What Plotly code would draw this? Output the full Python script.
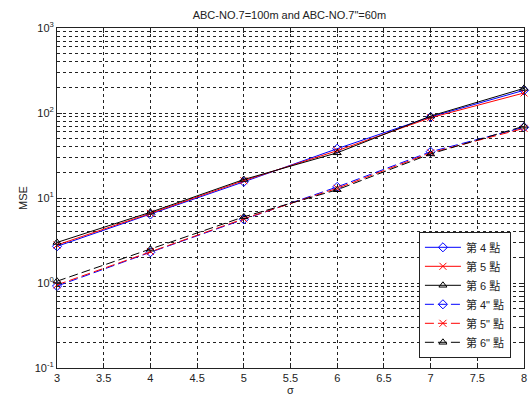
import plotly.graph_objects as go

sigma = [3, 4, 5, 6, 7, 8]
mse_p4 = [2.7, 6.4, 15.5, 38, 90, 185]
mse_p5 = [2.8, 6.6, 16.0, 36, 88, 172]
mse_p6 = [3.0, 6.8, 16.5, 34, 92, 195]
mse_p4b = [0.92, 2.3, 5.6, 13.5, 35, 68]
mse_p5b = [0.95, 2.35, 5.7, 13, 34, 66]
mse_p6b = [1.05, 2.5, 6.0, 12.5, 33, 70]

names = ["第 4 點", "第 5 點", "第 6 點", "第 4\" 點", "第 5\" 點", "第 6\" 點"]
series = [mse_p4, mse_p5, mse_p6, mse_p4b, mse_p5b, mse_p6b]
colors = ["#0000ff", "#ff0000", "#000000", "#0000ff", "#ff0000", "#000000"]
symbols = ["diamond-open", "x-thin-open", "triangle-up-open"] * 2
dashes = ["solid"] * 3 + ["9px,4px"] * 3

x_ticks = [3, 3.5, 4, 4.5, 5, 5.5, 6, 6.5, 7, 7.5, 8]
y_ticks = [0.1, 1, 10, 100, 1000]
y_ticktext = ["10<sup>-1</sup>", "10<sup>0</sup>", "10<sup>1</sup>", "10<sup>2</sup>", "10<sup>3</sup>"]
y_minor = [m * 10 ** e for e in [-1, 0, 1, 2] for m in range(2, 10)]

fig = go.Figure()
for name, ys, c, s, d in zip(names, series, colors, symbols, dashes):
    fig.add_trace(go.Scatter(
        x=sigma, y=ys, name=name, mode="lines+markers", cliponaxis=False,
        line=dict(color=c, width=1, dash=d),
        marker=dict(symbol=s, size=7, color=c, line=dict(color=c, width=1)),
    ))

grid_style = dict(showgrid=True, gridcolor="#222", gridwidth=1, griddash="3px,3px")

fig.update_layout(
    width=531, height=399,
    margin=dict(l=57, r=4, t=28, b=31),
    paper_bgcolor="white", plot_bgcolor="white",
    font=dict(family="Liberation Sans, Arial", size=11, color="#222"),
    title=dict(text="ABC-NO.7=100m and ABC-NO.7\"=60m", x=0.545, xanchor="center",
               y=0.963, yanchor="middle", font=dict(size=11)),
    showlegend=True,
    legend=dict(x=0.775, y=0.03, xanchor="left", yanchor="bottom",
                bordercolor="#222", borderwidth=1, bgcolor="white",
                font=dict(family="Liberation Sans, Noto Sans CJK TC", size=11),
                tracegroupgap=0, itemwidth=36),
    xaxis=dict(range=[3, 8], tickvals=x_ticks, ticktext=[str(v) for v in x_ticks],
               ticks="inside", ticklen=5, tickcolor="#222", mirror="ticks",
               showline=True, linecolor="#222", linewidth=1, zeroline=False,
               title=dict(text="σ", standoff=2, font=dict(size=11)),
               **grid_style),
    yaxis=dict(type="log", range=[-1, 3], tickvals=y_ticks, ticktext=y_ticktext,
               ticks="inside", ticklen=5, tickcolor="#222", mirror="ticks",
               showline=True, linecolor="#222", linewidth=1, zeroline=False,
               title=dict(text="MSE", standoff=4, font=dict(size=11)),
               minor=dict(tickvals=y_minor, ticks="inside", ticklen=3, tickcolor="#222",
                          showgrid=True, gridcolor="#222", gridwidth=1, griddash="3px,3px"),
               **grid_style),
)

fig.write_html("out.html", config={"displayModeBar": False},
               post_script="document.body.style.margin='0';")
